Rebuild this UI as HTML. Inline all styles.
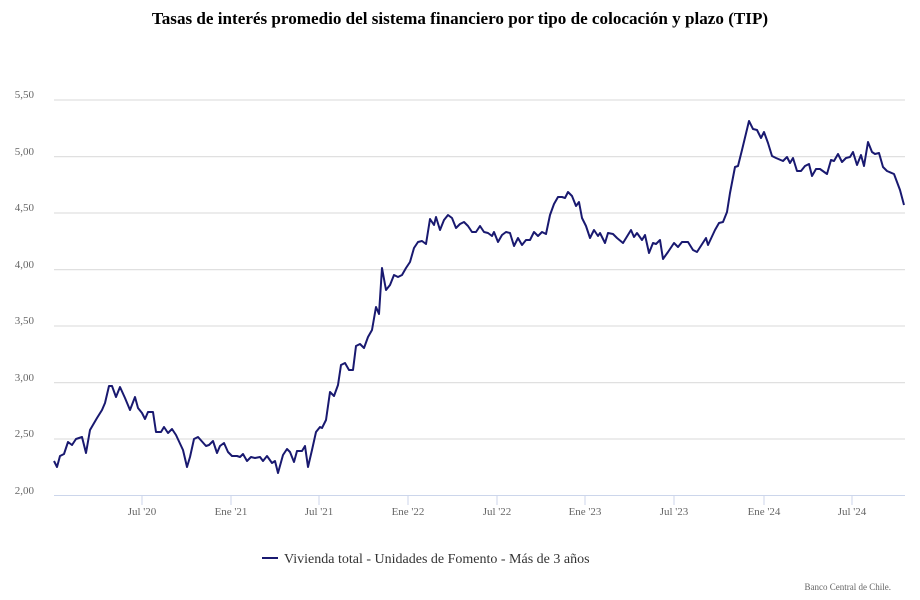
<!DOCTYPE html>
<html><head><meta charset="utf-8"><style>body{margin:0;background:#fff}svg{display:block}</style></head>
<body>
<svg width="920" height="600" xmlns="http://www.w3.org/2000/svg" font-family="Liberation Serif, serif">
<text x="460" y="24" text-anchor="middle" font-size="17.1" font-weight="bold" fill="#000">Tasas de interés promedio del sistema financiero por tipo de colocación y plazo (TIP)</text>
<g stroke="#e0e0e0" stroke-width="1.2">
<line x1="54" x2="905" y1="100" y2="100"/><line x1="54" x2="905" y1="156.6" y2="156.6"/>
<line x1="54" x2="905" y1="213" y2="213"/><line x1="54" x2="905" y1="269.6" y2="269.6"/>
<line x1="54" x2="905" y1="326" y2="326"/><line x1="54" x2="905" y1="382.6" y2="382.6"/>
<line x1="54" x2="905" y1="439" y2="439"/></g>
<line x1="54" x2="905" y1="495.5" y2="495.5" stroke="#ccd6eb" stroke-width="1"/>
<g stroke="#ccd6eb"><line x1="142" x2="142" y1="496" y2="505"/><line x1="231" x2="231" y1="496" y2="505"/><line x1="319" x2="319" y1="496" y2="505"/><line x1="408" x2="408" y1="496" y2="505"/><line x1="497" x2="497" y1="496" y2="505"/><line x1="585" x2="585" y1="496" y2="505"/><line x1="674" x2="674" y1="496" y2="505"/><line x1="764" x2="764" y1="496" y2="505"/><line x1="852" x2="852" y1="496" y2="505"/></g>
<g font-size="11" fill="#666" text-anchor="end">
<text x="34" y="98">5,50</text><text x="34" y="155">5,00</text><text x="34" y="211">4,50</text><text x="34" y="268">4,00</text><text x="34" y="324">3,50</text><text x="34" y="381">3,00</text><text x="34" y="437">2,50</text><text x="34" y="494">2,00</text></g>
<g font-size="11" fill="#666" text-anchor="middle">
<text x="142" y="515">Jul '20</text><text x="231" y="515">Ene '21</text><text x="319" y="515">Jul '21</text><text x="408" y="515">Ene '22</text><text x="497" y="515">Jul '22</text><text x="585" y="515">Ene '23</text><text x="674" y="515">Jul '23</text><text x="764" y="515">Ene '24</text><text x="852" y="515">Jul '24</text></g>
<polyline fill="none" stroke="#191970" stroke-width="2" stroke-linejoin="round" points="54,461 57,467 60,456 64,454 68,442 72,445 76,439 82,437 86,453 90,430 97,418 102,410 105,403 109,386 112,386 116,397 120,387 125,398 130,410 135,397 138,408 142,413 145,419 148,412 153,412 156,432 161,432 164,427 168,433 172,429 176,435 183,450 187,467 190,457 194,439 198,437 206,446 209,445 213,441 217,453 220,446 224,443 228,452 232,456 237,456 240,457 243,454 247,461 251,457 255,458 260,457 263,461 267,456 272,463 275,461 278,473 283,455 287,449 290,452 294,462 297,451 302,451 305,446 308,467 312,450 316,432 320,427 322,428 326,420 330,392 334,396 338,385 341,365 345,363 349,370 353,370 356,346 360,344 364,348 368,337 372,330 376,307 379,314 382,268 386,290 390,285 394,275 398,277 402,275 406,268 410,262 414,248 418,242 422,241 426,244 430,219 434,225 436,217 440,230 444,220 448,215 452,218 456,228 460,224 464,222 468,226 472,232 476,232 480,226 484,232 488,233 492,236 494,232 498,242 502,235 506,232 510,233 514,246 518,238 522,245 526,240 530,240 534,232 538,236 542,232 546,234 550,215 554,204 558,197 562,197 565,198 568,192 572,196 576,206 579,202 582,218 586,226 590,238 594,230 598,236 600,233 605,243 608,233 613,234 617,238 623,243 631,230 634,237 637,233 642,240 645,235 649,253 653,243 656,244 660,240 663,259 668,252 674,243 678,247 682,242 688,242 693,250 697,252 706,238 708,245 715,230 719,223 723,222 727,212 730,193 735,167 738,166 742,150 749,121 753,129 757,130 761,138 764,132 768,143 772,156 776,158 783,161 787,157 790,163 793,158 797,171 801,171 805,166 809,164 812,176 816,169 820,169 827,174 831,160 834,161 838,154 842,162 846,158 850,157 853,152 857,165 861,155 864,166 868,142 872,152 875,154 879,153 883,167 887,171 894,174 900,190 904,205"/>
<line x1="262" x2="278" y1="558" y2="558" stroke="#191970" stroke-width="2"/>
<text x="284" y="563" font-size="14" fill="#333">Vivienda total - Unidades de Fomento - Más de 3 años</text>
<text x="891" y="590" font-size="9" fill="#666" text-anchor="end">Banco Central de Chile.</text>
</svg>
</body></html>
